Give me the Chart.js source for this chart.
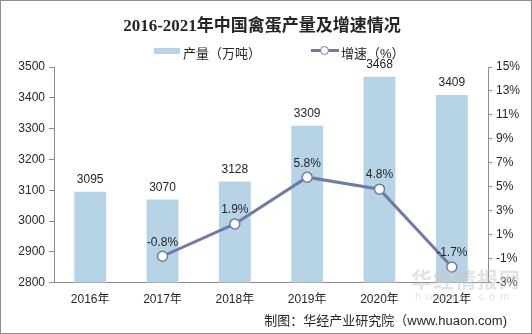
<!DOCTYPE html>
<html><head><meta charset="utf-8">
<script src="https://cdn.jsdelivr.net/npm/chart.js@4"></script>
<style>
html,body{margin:0;padding:0;background:#fff;}
#wrap{position:relative;width:532px;height:334px;box-sizing:border-box;border:1px solid #8c8c8c;overflow:hidden;font-family:"Liberation Sans","Noto Sans CJK SC",sans-serif;}
#c{position:absolute;left:0;top:0;}
#title{position:absolute;left:0;width:522px;top:10px;text-align:center;font:bold 17px "Liberation Serif","Noto Sans CJK SC",serif;color:#262626;}
#legend{position:absolute;top:42px;left:0;width:532px;height:16px;font-size:13px;color:#262626;}
.sw{position:absolute;}
#foot{position:absolute;right:24px;top:309px;font-size:13px;color:#262626;}
#wm{position:absolute;left:410px;top:262px;font:bold 21px "Noto Sans CJK SC",sans-serif;color:rgba(200,200,200,0.5);letter-spacing:1px;}
#wm2{position:absolute;left:414px;top:289px;font:11px "Liberation Sans",sans-serif;color:rgba(200,200,200,0.5);letter-spacing:5px;}
</style></head><body>
<div id="wrap">
<canvas id="c" width="532" height="334"></canvas>
<div id="wm">华经情报网</div>
<div id="wm2">huaon.com</div>
<div id="title">2016-2021年中国禽蛋产量及增速情况</div>
<div id="legend">
 <div class="sw" style="left:153px;top:5px;width:26px;height:6px;background:#b7d3e6;"></div>
 <div class="sw" style="left:182px;top:0px;">产量（万吨）</div>
 <div class="sw" style="left:310px;top:6px;width:28px;height:3px;background:#6f7ba3;"></div>
 <div class="sw" style="left:319px;top:3px;width:7px;height:7px;border:1.5px solid #6f7ba3;border-radius:50%;background:#fff;"></div>
 <div class="sw" style="left:340px;top:0px;">增速（%）</div>
</div>
<div id="foot">制图：华经产业研究院（www.huaon.com)</div>
</div>
<script>
const categories = ['2016年','2017年','2018年','2019年','2020年','2021年'];
const production = [3095, 3070, 3128, 3309, 3468, 3409];
const growth = [null, -0.8, 1.9, 5.8, 4.8, -1.7];
const leftTicks = {min:2800, max:3500, step:100};
const rightTicks = {min:-3, max:15, step:2};

const labelPlugin = {
  id:'labels',
  afterDatasetsDraw(chart){
    const ctx = chart.ctx;
    ctx.save();
    ctx.font = '12px "Liberation Sans", sans-serif';
    ctx.fillStyle = '#262626';
    ctx.textAlign = 'center';
    ctx.textBaseline = 'bottom';
    chart.getDatasetMeta(1).data.forEach((el,i)=>{
      ctx.fillText(String(production[i]), el.x, el.y - 6);
    });
    chart.getDatasetMeta(0).data.forEach((el,i)=>{
      if (growth[i] === null) return;
      ctx.fillText(growth[i].toFixed(1)+'%', el.x, el.y - 8);
    });
    ctx.restore();
  }
};

new Chart(document.getElementById('c'), {
  data:{
    labels:categories,
    datasets:[
      {type:'line', label:'增速（%）', data:growth, yAxisID:'y1',
       borderColor:'#6f7ba3', borderWidth:3, pointRadius:5, pointBackgroundColor:'#fff',
       pointBorderColor:'#6f7ba3', pointBorderWidth:1.5, spanGaps:false, order:0},
      {type:'bar', label:'产量（万吨）', data:production, yAxisID:'y',
       backgroundColor:'#b7d3e6', barPercentage:0.44, categoryPercentage:1, order:1}
    ]
  },
  options:{
    responsive:false, animation:false,
    layout:{padding:{top:66, bottom:26, left:0, right:0}},
    plugins:{legend:{display:false}, title:{display:false}, tooltip:{enabled:false}},
    scales:{
      x:{grid:{display:false}, border:{display:true,color:'#8c8c8c'},
         ticks:{color:'#262626', font:{size:12,family:'"Liberation Sans","Noto Sans CJK SC",sans-serif'}, padding:2}},
      y:{position:'left', min:leftTicks.min, max:leftTicks.max,
         ticks:{stepSize:leftTicks.step, color:'#262626', font:{size:12,family:'"Liberation Sans",sans-serif'}, padding:4, callback:v=>String(v)},
         grid:{drawOnChartArea:false, tickLength:5, color:'#8c8c8c'}, border:{color:'#8c8c8c'},
         afterFit(s){s.width=53;}},
      y1:{position:'right', min:rightTicks.min, max:rightTicks.max,
         ticks:{stepSize:rightTicks.step, color:'#262626', font:{size:12,family:'"Liberation Sans",sans-serif'}, padding:4, callback:v=>v+'%'},
         grid:{drawOnChartArea:false, tickLength:4, color:'#8c8c8c'}, border:{color:'#8c8c8c'},
         afterFit(s){s.width=45;}}
    }
  },
  plugins:[labelPlugin]
});
</script>
</body></html>
